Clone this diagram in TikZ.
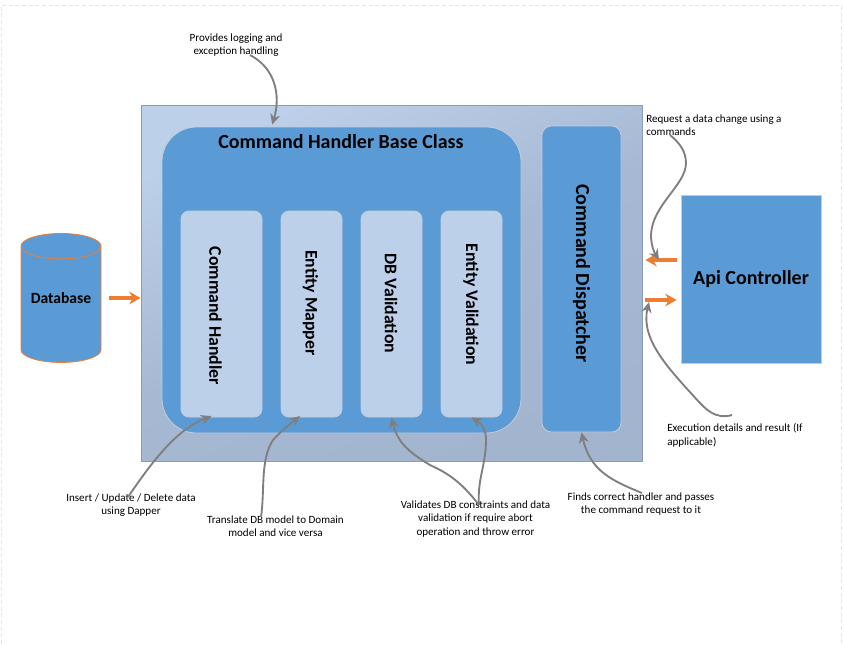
\documentclass[tikz,border=0pt]{standalone}
\usepackage{fontspec}
\setmainfont{Carlito}
\usetikzlibrary{arrows.meta,shapes.geometric}

\definecolor{boxblue}{HTML}{5B9BD5}
\definecolor{paleblue}{HTML}{BDD0E9}
\definecolor{dullblue}{HTML}{A3B5CE}
\definecolor{edgegray}{HTML}{C3CCD9}
\definecolor{framegray}{HTML}{8A9BB8}
\definecolor{flowgray}{HTML}{7F7F7F}
\definecolor{floworange}{HTML}{ED7D31}

\def\pxu{0.75pt}

\tikzset{
  titletext/.style={font=\bfseries\fontsize{15}{17}\selectfont,inner sep=0pt},
  dbfont/.style={font=\bfseries\fontsize{11.7}{13}\selectfont,inner sep=0pt},
  notetext/.style={font=\fontsize{8.3}{10.2}\selectfont,inner sep=0pt,align=center},
  bluebox/.style={draw=edgegray,fill=boxblue,line width=0.6pt},
  palebox/.style={draw=edgegray,fill=paleblue,line width=0.6pt,rounded corners=6pt},
  callout/.style={draw=flowgray,line width=1.4pt,-{Stealth[length=8pt,width=7.5pt]}},
  flow/.style={draw=floworange,line width=2.4pt,-{Stealth[length=8.5pt,width=9.5pt]}}
}

\begin{document}
\begin{tikzpicture}[x=\pxu,y=-\pxu]

  \useasboundingbox (0,0) rectangle (844,644);

  % Page frame
  \draw[densely dashed,black!10,line width=0.5pt] (1,644) -- (1,5) -- (841,5) -- (841,644);

  % Outer container
  \node[draw=framegray,top color=paleblue,bottom color=dullblue,middle color=dullblue!85!paleblue,shading angle=25,
    line width=0.6pt,minimum width=501*\pxu,minimum height=356*\pxu,inner sep=0pt]
    (outer) at (391.5,283) {};

  % Base class and its title
  \node[bluebox,rounded corners=26pt,minimum width=359*\pxu,minimum height=306*\pxu,inner sep=0pt]
    (base) at (341.5,280) {};
  \node[titletext] (baseTitle) at (341,142) {Command Handler Base Class};

  % Inner steps
  \foreach \name/\cx/\bw/\tx/\ty/\txt in {
    cmdHandler/221.5/81/215.5/316/Command Handler,
    entityMapper/311.5/61/310.5/303/Entity Mapper,
    dbValidation/391.5/61/391/303.5/DB Validation,
    entityValidation/471.5/61/471/304.5/Entity Validation}{
    \node[palebox,minimum width=\bw*\pxu,minimum height=206*\pxu,inner sep=0pt]
      (\name) at (\cx,314) {};
    \node[font=\bfseries\fontsize{13.3}{15}\selectfont,inner sep=0pt,rotate=-90]
      (\name Text) at (\tx,\ty) {\txt};
  }

  % Dispatcher
  \node[bluebox,rounded corners=7pt,minimum width=79*\pxu,minimum height=306*\pxu,inner sep=0pt]
    (dispatcher) at (581.5,279) {};
  \node[titletext,rotate=-90] (dispatcherText) at (581.5,273.5) {Command Dispatcher};

  % Api controller
  \node[bluebox,minimum width=140*\pxu,minimum height=168*\pxu,inner sep=0pt]
    (api) at (751,279) {};
  \node[titletext] (apiText) at (751,279) {Api Controller};

  % Database
  \node[cylinder,shape border rotate=90,aspect=0.42,draw=floworange,fill=boxblue,line width=0.6pt,
    minimum width=80*\pxu,minimum height=129*\pxu,dbfont]
    (db) at (61,304.5) {\phantom{Database}};
  \node[dbfont] (dbText) at (61,298) {Database};

  % Orange flow arrows
  \coordinate (dbFlow) at (101,298);
  \draw[flow,shorten <=8*\pxu] (dbFlow) -- ([yshift=-11.25pt]outer.west);
  \draw[flow,shorten <=4*\pxu,shorten >=3*\pxu] ([yshift=14.25pt]api.west) -- ([yshift=17.25pt]outer.east);
  \draw[flow,shorten <=3*\pxu,shorten >=4*\pxu] ([yshift=-12.75pt]outer.east) -- ([yshift=-15.75pt]api.west);

  % Notes
  \node[notetext] (noteLog) at (236,45) {Provides logging and\\exception handling};
  \node[notetext,align=left,anchor=west] (noteRequest) at (646,125) {Request a data change using a\\commands};
  \node[notetext,align=left,anchor=west] (noteResult) at (667,435.5) {Execution details and result (If\\applicable)};
  \node[notetext] (noteInsert) at (131,505) {Insert / Update / Delete data\\using Dapper};
  \node[notetext] (noteMapper) at (275.5,526) {Translate DB model to Domain\\model and vice versa};
  \node[notetext] (noteValid) at (475.5,519) {Validates DB constraints and data\\validation if require abort\\operation and throw error};
  \node[notetext] (noteFinds) at (641,504) {Finds correct handler and passes\\the command request to it};

  \coordinate (requestEnd) at (659,260);
  \coordinate (resultEnd) at (649,302);

  % Grey callouts
  \draw[callout] (250,55) .. controls (275,68) and (281,95) .. ([xshift=-52pt,yshift=1.5pt]base.north);
  \draw[callout] (670,135) .. controls (680,143) and (686,152) .. (686,163)
    .. controls (686,185) and (652,205) .. (651,235)
    .. controls (651,245) and (654,252) .. (requestEnd);
  \draw[callout] (732,415) .. controls (715,420) and (705,408) .. (699,402)
    .. controls (670,370) and (640,340) .. (resultEnd);
  \draw[callout] (128,497) .. controls (150,465) and (175,430) .. ([xshift=-7.5pt,yshift=1pt]cmdHandler.south);
  \draw[callout] (261,517) .. controls (265,490) and (260,460) .. (273,440)
    .. controls (280,432) and (290,424) .. ([xshift=-8.5pt,yshift=1pt]entityMapper.south);
  \draw[callout] (479,505) .. controls (460,480) and (445,472) .. (430,465)
    .. controls (405,450) and (397,440) .. (dbValidation.south);
  \draw[callout] (479,505) .. controls (477,480) and (486,465) .. (486,440)
    .. controls (486,430) and (482,424) .. (entityValidation.south);
  \draw[callout] (642,493) .. controls (610,480) and (590,470) .. (dispatcher.south);

\end{tikzpicture}
\end{document}
